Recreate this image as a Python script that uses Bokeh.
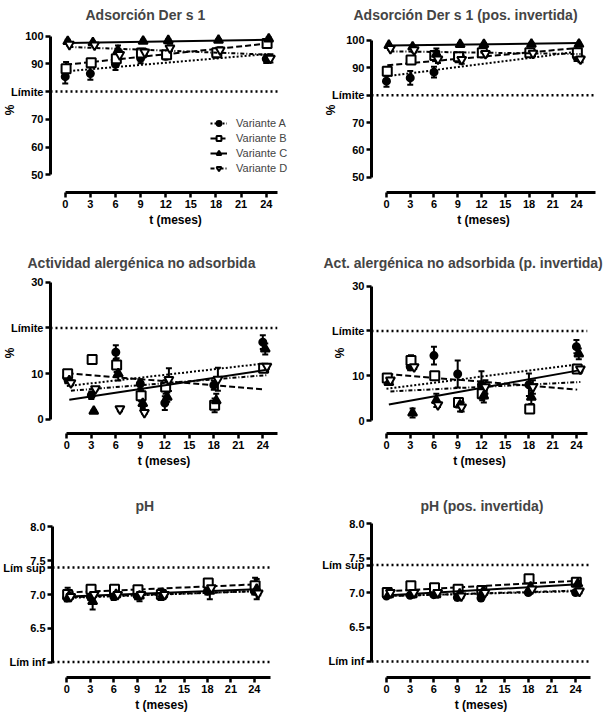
from bokeh.embed import file_html
from bokeh.layouts import column, row
from bokeh.models import (ColumnDataSource, FixedTicker, Legend, LegendItem,
                          NumeralTickFormatter, Range1d, TeeHead, Whisker)
from bokeh.plotting import figure
from bokeh.resources import INLINE

FONT = "Liberation Sans"

# ---- data ----
meses = [0, 3, 6, 9, 12, 18, 24]
ticks_x = [0, 3, 6, 9, 12, 15, 18, 21, 24]
t_ajuste = [0, 24]
variantes = ["A", "B", "C", "D"]

# Adsorción Der s 1
ads = {"A": [85.4, 86.5, 89.8, 92.0, 92.7, 93.5, 91.8],
       "B": [88.2, 90.4, 91.8, 93.9, 93.3, 94.0, 97.3],
       "C": [98.1, 97.6, 94.8, 98.2, 98.4, 98.5, 99.0],
       "D": [97.0, 96.8, 93.3, 94.2, 95.7, 95.0, 92.0]}
ads_err = {"A": [2.5, 2.2, 2.0, 1.8, 1.0, 1.2, 1.5],
           "B": [2.5, 1.0, 2.0, 1.5, 1.0, 1.5, 1.0],
           "C": [0.6, 0.5, 1.8, 0.5, 0.5, 0.5, 0.5],
           "D": [0.5, 0.5, 1.5, 1.0, 1.0, 1.0, 1.5]}
ads_fit = {"A": [87.3, 93.5], "B": [89.7, 97.3], "C": [97.5, 98.7], "D": [96.1, 93.3]}

# Adsorción Der s 1 (pos. invertida)
ads_inv = {"A": [85.1, 86.3, 88.4, 93.5, 95.0, 95.5, 94.0],
           "B": [88.7, 92.8, 94.5, 94.0, 95.5, 95.5, 95.5],
           "C": [98.2, 97.6, 95.0, 98.5, 98.5, 98.6, 98.6],
           "D": [97.0, 96.5, 93.2, 93.0, 95.2, 95.3, 93.2]}
ads_inv_err = {"A": [2.0, 2.5, 2.0, 1.5, 1.0, 1.0, 1.5],
               "B": [1.5, 0.8, 1.0, 1.0, 1.0, 0.8, 1.0],
               "C": [0.5, 0.5, 2.0, 0.5, 0.5, 0.5, 0.5],
               "D": [0.5, 0.8, 1.5, 1.5, 1.0, 1.0, 1.2]}
ads_inv_fit = {"A": [86.9, 95.8], "B": [90.9, 97.2], "C": [98.1, 99.0], "D": [96.0, 95.0]}

# Actividad alergénica no adsorbida
act = {"A": [9.2, 5.3, 14.7, 7.8, 3.6, 7.5, 16.9],
       "B": [10.0, 13.1, 11.9, 5.2, 7.1, 3.1, 11.2],
       "C": [8.5, 1.8, 10.0, 3.5, 4.9, 4.1, 15.4],
       "D": [8.0, 6.7, 2.3, 1.5, 8.7, 8.8, 11.6]}
act_err = {"A": [0.8, 0.8, 1.5, 1.0, 1.5, 1.0, 1.5],
           "B": [0.8, 1.0, 1.5, 1.2, 1.5, 1.5, 0.8],
           "C": [0.5, 0.3, 1.5, 1.0, 1.0, 1.5, 1.2],
           "D": [0.5, 0.3, 0.5, 0.3, 2.5, 2.5, 0.5]}
act_fit = {"A": [7.3, 12.2], "B": [10.1, 6.6], "C": [4.3, 10.8], "D": [6.3, 9.7]}

# Act. alergénica no adsorbida (p. invertida)
act_inv = {"A": [9.3, 12.0, 14.5, 10.4, 8.0, 8.0, 16.5],
           "B": [9.5, 13.4, 10.0, 4.0, 6.0, 2.6, 11.5],
           "C": [8.5, 1.7, 4.5, 3.5, 5.5, 5.2, 14.9],
           "D": [9.0, 12.0, 3.5, 3.0, 7.5, 7.5, 11.5]}
act_inv_err = {"A": [0.8, 0.8, 2.0, 3.0, 3.0, 2.5, 1.5],
               "B": [0.8, 1.2, 0.8, 1.0, 1.5, 0.8, 0.8],
               "C": [0.5, 1.0, 1.5, 1.5, 1.5, 1.5, 1.2],
               "D": [0.5, 0.5, 0.5, 1.0, 1.5, 1.5, 0.5]}
act_inv_fit = {"A": [7.1, 12.5], "B": [10.4, 6.9], "C": [3.6, 11.2], "D": [6.5, 8.6]}

# pH
ph = {"A": [6.95, 6.97, 6.97, 6.98, 6.97, 7.05, 7.05],
      "B": [7.00, 7.08, 7.08, 7.07, 7.00, 7.17, 7.13],
      "C": [6.98, 6.90, 7.00, 6.98, 7.00, 7.05, 7.08],
      "D": [6.97, 7.00, 7.00, 7.00, 7.00, 7.10, 7.02]}
ph_err = {"A": [0.05, 0.05, 0.05, 0.05, 0.05, 0.05, 0.05],
          "B": [0.10, 0.05, 0.05, 0.05, 0.08, 0.05, 0.12],
          "C": [0.05, 0.12, 0.05, 0.08, 0.05, 0.12, 0.15],
          "D": [0.03, 0.03, 0.03, 0.03, 0.03, 0.03, 0.03]}
ph_fit = {"A": [6.95, 7.05], "B": [7.03, 7.15], "C": [6.97, 7.08], "D": [6.96, 7.05]}

# pH (pos. invertida)
ph_inv = {"A": [6.95, 6.96, 6.97, 6.93, 6.92, 7.00, 7.00],
          "B": [7.00, 7.10, 7.07, 7.05, 7.03, 7.20, 7.15],
          "C": [6.97, 6.97, 6.97, 6.98, 7.02, 7.08, 7.13],
          "D": [7.00, 7.00, 7.00, 6.95, 7.00, 7.05, 7.02]}
ph_inv_err = {"A": [0.03, 0.03, 0.03, 0.04, 0.04, 0.03, 0.03],
              "B": [0.03, 0.03, 0.03, 0.03, 0.03, 0.03, 0.03],
              "C": [0.04, 0.04, 0.04, 0.04, 0.06, 0.05, 0.04],
              "D": [0.03, 0.03, 0.03, 0.03, 0.03, 0.03, 0.03]}
ph_inv_fit = {"A": [6.95, 7.02], "B": [7.02, 7.17], "C": [6.96, 7.12], "D": [6.95, 7.03]}

limite_ads = 80
limite_act = 20
ph_lim_sup = 7.4
ph_lim_inf = 6.0

# ---- styles ----
nombre = {"A": "Variante A", "B": "Variante B", "C": "Variante C", "D": "Variante D"}
marca = {"A": "circle", "B": "square", "C": "triangle", "D": "inverted_triangle"}
relleno = {"A": "black", "B": "white", "C": "black", "D": "white"}
tam = {"A": 7, "B": 9, "C": 9, "D": 9}
trazo = {"A": "2 2", "B": "6 3", "C": "solid", "D": "4 2 1 2"}
desplaz = {"A": 0.0, "B": 0.1, "C": 0.3, "D": 0.5}


def panel(g, valores, errores, ajustes, leyenda=False):
    p = figure(width=g["w"], height=g["h"], title=g["titulo"],
               x_range=Range1d(*g["xr"]), y_range=Range1d(*g["yr"]),
               min_border_left=g["fl"] - g["x0"], min_border_right=g["x0"] + g["w"] - g["fr"],
               min_border_top=g["ft"] - g["y0"], min_border_bottom=g["y0"] + g["h"] - g["fb"],
               output_backend="svg", toolbar_location=None)
    p.grid.visible = False
    p.outline_line_color = None
    p.title.text_font = FONT
    p.title.text_font_size = "14px"
    p.title.text_font_style = "bold"
    p.title.align = "left"
    p.title.offset = g["tleft"] - g["fl"] - 5
    p.title.standoff = g["tst"]

    p.xaxis.ticker = FixedTicker(ticks=ticks_x)
    p.xaxis.bounds = (0, g["xe"])
    p.xaxis.axis_label = "t (meses)"
    p.xaxis.axis_label_standoff = 2
    p.yaxis.ticker = FixedTicker(ticks=g["yt"])
    p.yaxis.bounds = g["yb"]
    if g.get("fmt"):
        p.yaxis.formatter = NumeralTickFormatter(format=g["fmt"])
    p.yaxis.major_label_overrides = g["ov"]
    if g.get("pct") is not None:
        p.yaxis.axis_label = "%"
        p.yaxis.axis_label_standoff = g["pct"]
    for ax in (p.xaxis[0], p.yaxis[0]):
        ax.axis_line_width = 3
        ax.axis_line_color = "black"
        ax.major_tick_line_width = 2.5
        ax.major_tick_line_color = "black"
        ax.major_tick_in = 0
        ax.major_tick_out = 5
        ax.minor_tick_line_color = None
        ax.major_label_standoff = 2
        ax.major_label_text_font = FONT
        ax.major_label_text_font_style = "bold"
        ax.major_label_text_font_size = "11px"
        ax.major_label_text_color = "black"
        ax.axis_label_text_font = FONT
        ax.axis_label_text_font_style = "bold"
        ax.axis_label_text_font_size = "12px"
        ax.axis_label_text_color = "black"

    # limit lines, from the y axis to the end of the x axis
    n = len(g["lim"])
    p.segment(x0=[g["xr"][0]] * n, y0=g["lim"], x1=[g["xe"]] * n, y1=g["lim"],
              line_color="black", line_width=2.5, line_dash="2 3")

    items = []
    for v in variantes:
        x = [t + desplaz[v] for t in meses]
        y = valores[v]
        e = errores[v]
        src = ColumnDataSource(dict(x=x, y=y,
                                    lo=[a - b for a, b in zip(y, e)],
                                    hi=[a + b for a, b in zip(y, e)]))
        p.add_layout(Whisker(source=src, base="x", lower="lo", upper="hi",
                             line_color="black", line_width=2,
                             lower_head=TeeHead(size=6, line_width=2),
                             upper_head=TeeHead(size=6, line_width=2)))
        linea = p.line([t + desplaz[v] for t in t_ajuste], ajustes[v], line_color="black",
                       line_width=2, line_dash=trazo[v])
        puntos = p.scatter("x", "y", source=src, marker=marca[v], size=tam[v],
                           fill_color=relleno[v], line_color="black", line_width=2)
        items.append(LegendItem(label=nombre[v], renderers=[linea, puntos]))

    if leyenda:
        lg = Legend(items=items, location=(160, 18), background_fill_alpha=0,
                    border_line_alpha=0, padding=0, margin=0, spacing=3,
                    glyph_width=17, glyph_height=12, label_height=12, label_standoff=9,
                    label_text_font=FONT, label_text_font_size="11px")
        p.add_layout(lg)
    return p


g1 = dict(x0=0, y0=0, w=308, h=248, fl=45, fr=300, ft=26, fb=192,
          xr=(-1.76, 28.09), xe=25.4, yr=(43.66, 103.1), yt=[50, 60, 70, 80, 90, 100],
          yb=(50, 100), ov={80: "Límite"}, lim=[limite_ads], titulo="Adsorción Der s 1",
          tleft=85, tst=9, pct=-9)
g2 = dict(x0=308, y0=0, w=300, h=248, fl=371, fr=595, ft=26, fb=192,
          xr=(-1.89, 26.39), xe=26.39, yr=(44.44, 104.7), yt=[50, 60, 70, 80, 90, 100],
          yb=(50, 100), ov={80: "Límite"}, lim=[limite_ads],
          titulo="Adsorción Der s 1 (pos. invertida)", tleft=358, tst=9, pct=-9)
g3 = dict(x0=0, y0=248, w=308, h=245, fl=45, fr=277, ft=272, fb=433,
          xr=(-2.0, 25.8), xe=25.8, yr=(-3.06, 32.12), yt=[0, 10, 20, 30], yb=(0, 30),
          ov={20: "Límite"}, lim=[limite_act], titulo="Actividad alergénica no adsorbida",
          tleft=27, tst=4, pct=-9)
g4 = dict(x0=308, y0=248, w=300, h=245, fl=371, fr=587, ft=272, fb=433,
          xr=(-1.89, 25.4), xe=25.4, yr=(-2.9, 33.06), yt=[0, 10, 20, 30], yb=(0, 30),
          ov={20: "Límite"}, lim=[limite_act],
          titulo="Act. alergénica no adsorbida (p. invertida)", tleft=328, tst=4, pct=-18)
g5 = dict(x0=0, y0=493, w=308, h=221, fl=47, fr=270, ft=515, fb=679,
          xr=(-1.84, 26.07), xe=26.07, yr=(5.772, 8.17), yt=[6.0, 6.5, 7.0, 7.4, 7.5, 8.0],
          yb=(6.0, 8.0), fmt="0.0", ov={6: "Lím inf", 7.4: "Lím sup"},
          lim=[ph_lim_sup, ph_lim_inf], titulo="pH", tleft=135, tst=4)
g6 = dict(x0=308, y0=493, w=300, h=221, fl=371, fr=590, ft=515, fb=679,
          xr=(-1.9, 25.9), xe=25.9, yr=(5.767, 8.119), yt=[6.0, 6.5, 7.0, 7.4, 7.5, 8.0],
          yb=(6.0, 8.0), fmt="0.0", ov={6: "Lím inf", 7.4: "Lím sup"},
          lim=[ph_lim_sup, ph_lim_inf], titulo="pH (pos. invertida)", tleft=425, tst=4)

p1 = panel(g1, ads, ads_err, ads_fit, leyenda=True)
p2 = panel(g2, ads_inv, ads_inv_err, ads_inv_fit)
p3 = panel(g3, act, act_err, act_fit)
p4 = panel(g4, act_inv, act_inv_err, act_inv_fit)
p5 = panel(g5, ph, ph_err, ph_fit)
p6 = panel(g6, ph_inv, ph_inv_err, ph_inv_fit)

layout = column(row(p1, p2), row(p3, p4), row(p5, p6))

open("out.html", "w").write(file_html(layout, INLINE))
